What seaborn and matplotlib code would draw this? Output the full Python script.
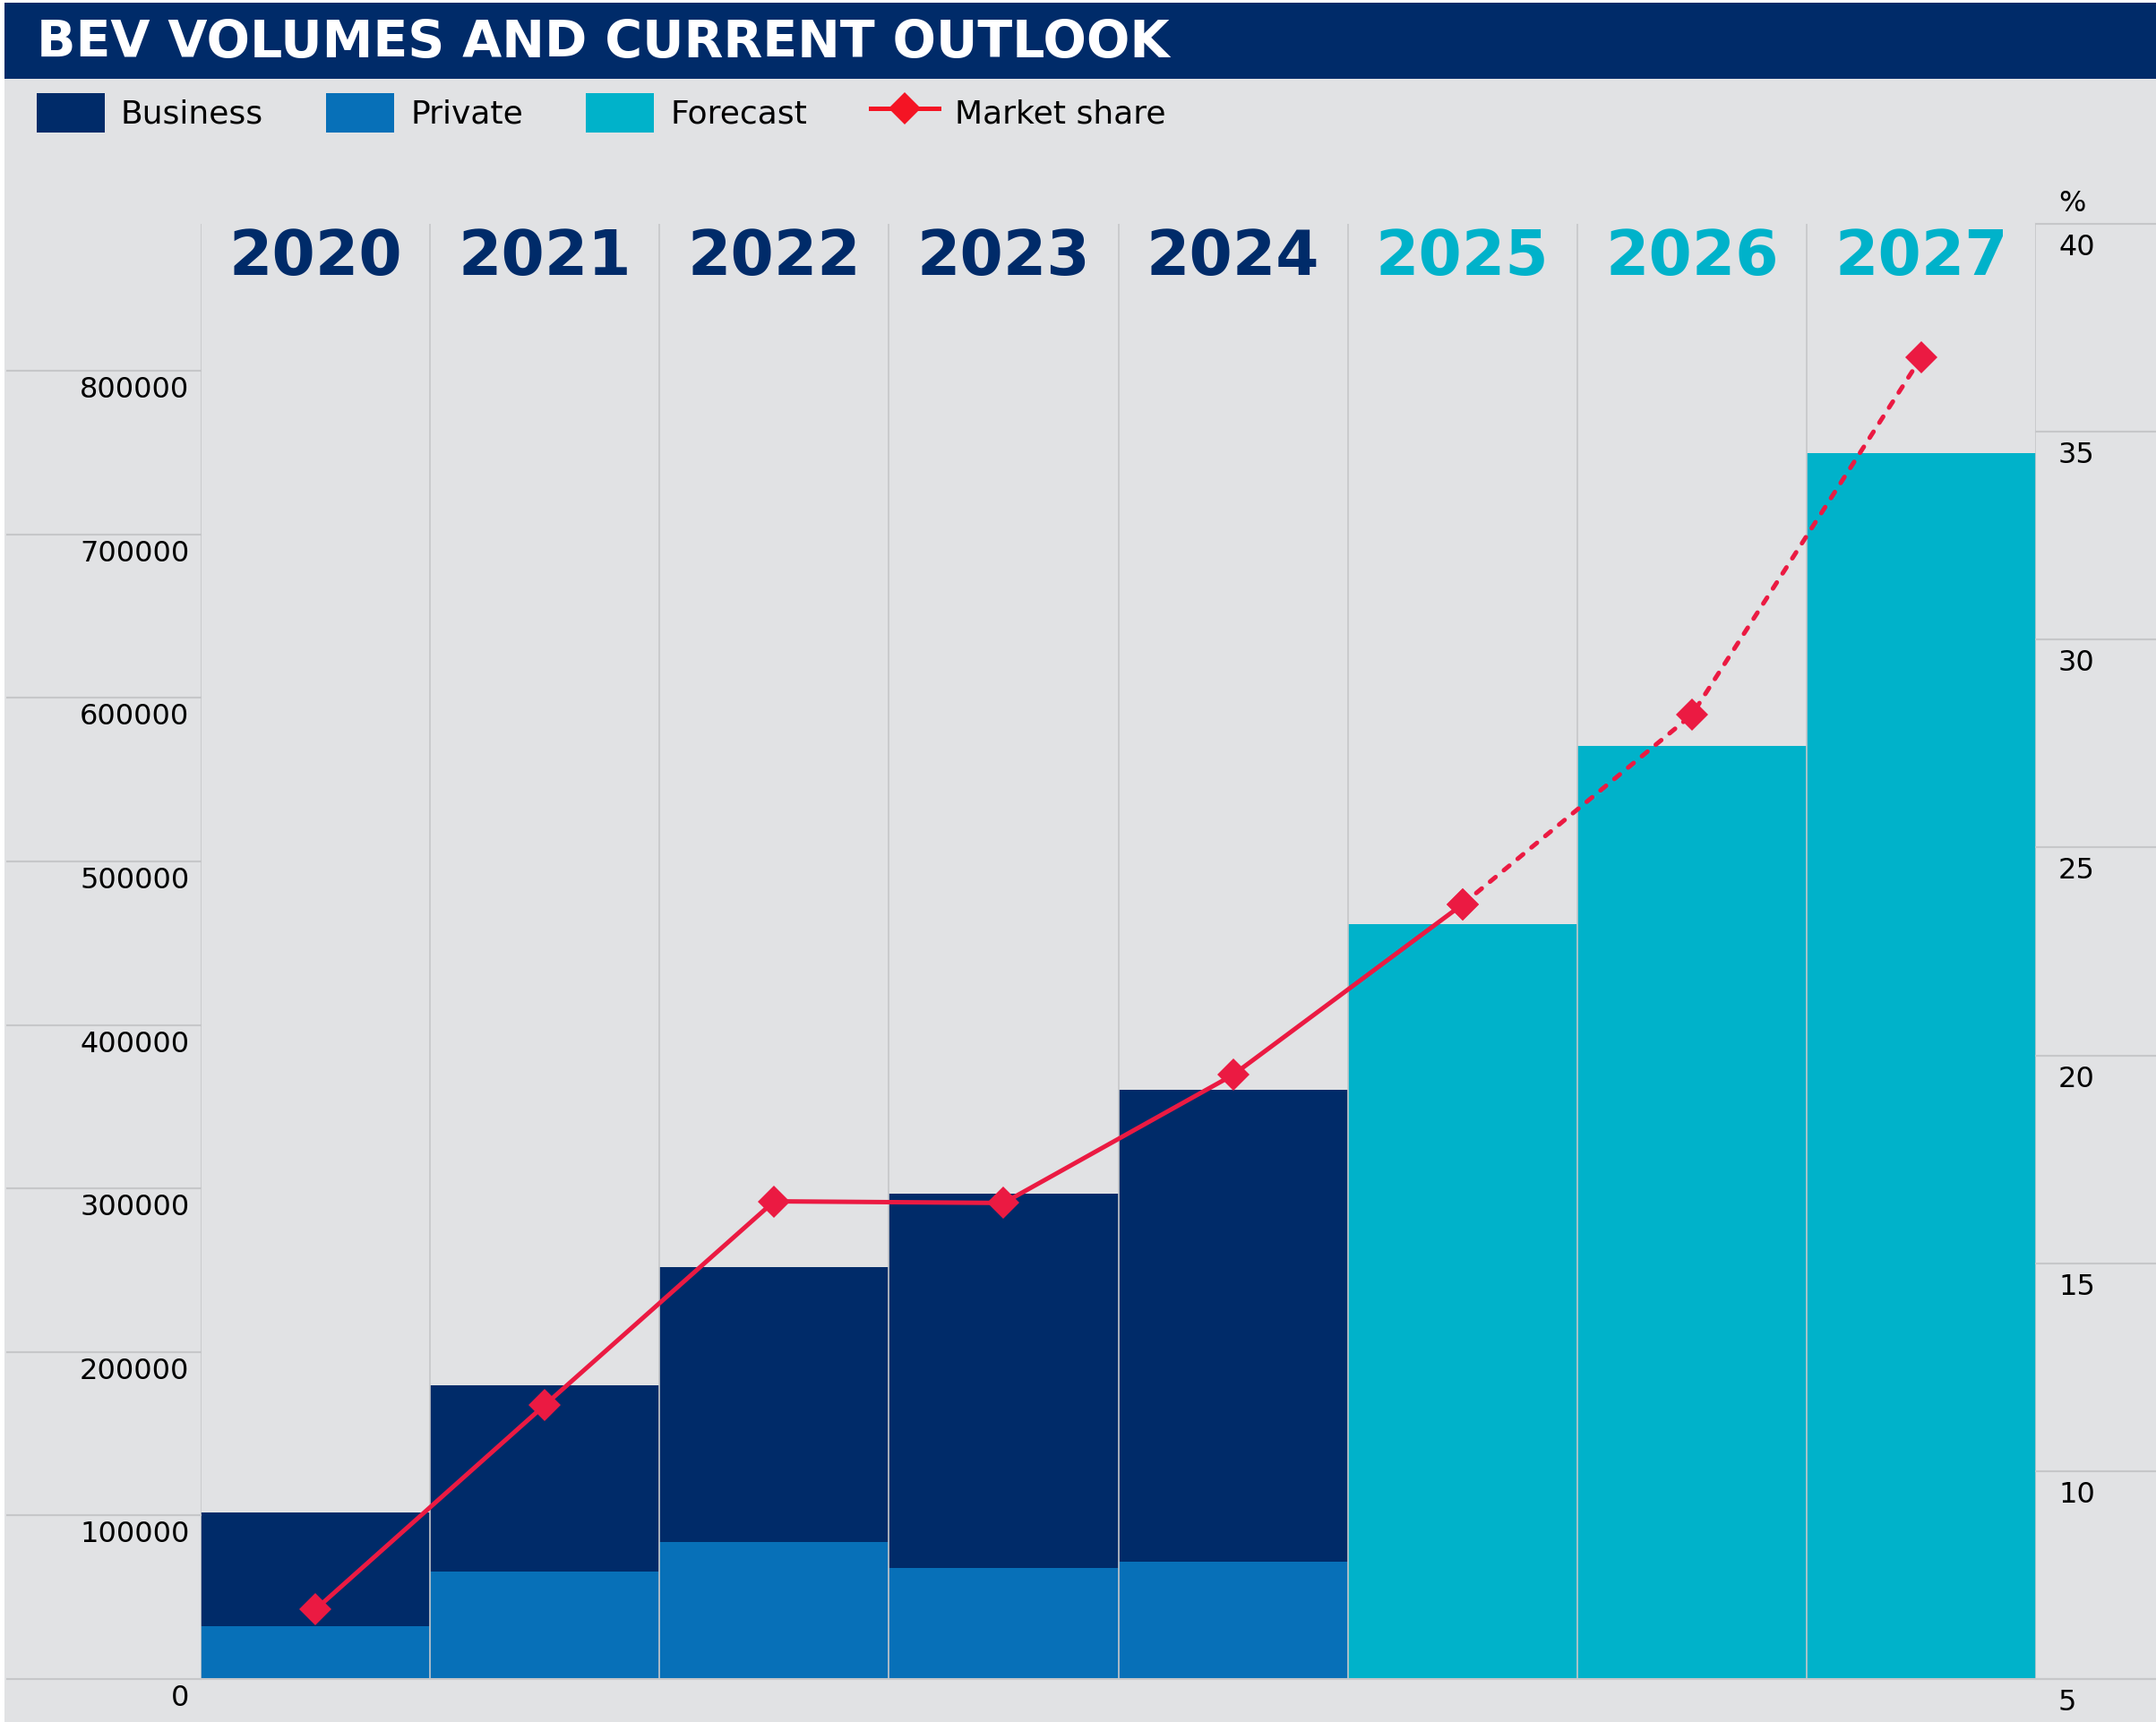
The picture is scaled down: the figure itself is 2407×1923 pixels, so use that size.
import numpy as np
import pandas as pd
import matplotlib
matplotlib.use("Agg")
import matplotlib.pyplot as plt
import seaborn as sns
from matplotlib.patches import Rectangle, Patch
from matplotlib.lines import Line2D
from matplotlib.transforms import blended_transform_factory, ScaledTranslation

# ---------------- data ----------------
years = ["2020", "2021", "2022", "2023", "2024", "2025", "2026", "2027"]
hist_years = ["2020", "2021", "2022", "2023", "2024"]
forecast_years = ["2025", "2026", "2027"]
business = [69600, 113900, 168200, 228800, 288700]
private = [32300, 65700, 83800, 68100, 71700]
forecast = [461700, 570600, 749700]
market_share = [6.67, 11.59, 16.49, 16.45, 19.53, 23.63, 28.19, 36.79]
left_ticks = [0, 100000, 200000, 300000, 400000, 500000, 600000, 700000, 800000]
right_ticks = [5, 10, 15, 20, 25, 30, 35, 40]
title = "BEV VOLUMES AND CURRENT OUTLOOK"
legend_labels = ["Business", "Private", "Forecast", "Market share"]

# ---------------- style ----------------
NAVY = "#002B69"
BLUE = "#0770B8"
CYAN = "#00B2CA"
RED = "#EB1A42"
LEGRED = "#F41424"
BG = "#E1E2E4"
GRID = "#C6C7C9"

plt.rcParams["font.family"] = ["DejaVu Sans"]

W, H, DPI = 2407, 1923, 200
fig = plt.figure(figsize=(W / DPI, H / DPI), dpi=DPI)
fig.patch.set_facecolor(BG)
# thin white strips at left / top edge
fig.add_artist(Rectangle((0, 0), 5 / W, 1, transform=fig.transFigure, color="white", lw=0, zorder=0))
fig.add_artist(Rectangle((0, 1 - 3 / H), 1, 3 / H, transform=fig.transFigure, color="white", lw=0, zorder=0))
# title band
fig.add_artist(Rectangle((5 / W, 1 - 88 / H), 1, 85 / H, transform=fig.transFigure, color=NAVY, lw=0, zorder=1))
fig.text(41 / W, 1 - 64 / H, title, color="white", fontsize=20.5, fontweight="bold", va="baseline", ha="left", zorder=2)

ax_l, ax_r, ax_b, ax_t = 224 / W, 2273 / W, 1 - 1875 / H, 1 - 250 / H
ax = fig.add_axes([ax_l, ax_b, ax_r - ax_l, ax_t - ax_b])
ax.set_facecolor("none")

# ---------------- bars ----------------
df = pd.DataFrame({
    "year": years,
    "total": [b + p for b, p in zip(business, private)] + forecast,
    "segment": ["Business"] * len(hist_years) + ["Forecast"] * len(forecast_years),
    "private": private + [0] * len(forecast_years),
})
sns.barplot(data=df, x="year", y="total", hue="segment", order=years,
            palette={"Business": NAVY, "Forecast": CYAN}, dodge=False, width=1.0,
            saturation=1, linewidth=0, legend=False, ax=ax, zorder=2)
sns.barplot(data=df, x="year", y="private", order=years, color=BLUE, width=1.0,
            saturation=1, linewidth=0, ax=ax, zorder=2)

ax.set_xlim(-0.5, len(years) - 0.5)
ax.set_ylim(0, 890000)
ax.set_xlabel("")
ax.set_ylabel("")
ax.set_xticks([])
for s in ax.spines.values():
    s.set_visible(False)

# vertical separators
for k in range(len(years) + 1):
    ax.axvline(k - 0.5, color=GRID, lw=0.6, zorder=2.5)

# left ticks
ax.set_yticks(left_ticks)
ax.set_yticklabels([str(v) for v in left_ticks])
ax.tick_params(axis="y", length=0, pad=4.5, labelsize=11.5, labelcolor="black")
off = ScaledTranslation(0, -6 / DPI, fig.dpi_scale_trans)
for lab in ax.get_yticklabels():
    lab.set_verticalalignment("top")
    lab.set_transform(lab.get_transform() + off)

# year labels
yr_tr = blended_transform_factory(ax.transData, ax.transAxes)
for i, y in enumerate(years):
    ax.text(i, (1875 - 307) / 1625, y, transform=yr_tr, ha="center", va="baseline",
            fontsize=25, fontweight="bold", color=(CYAN if y in forecast_years else NAVY), zorder=3)

# ---------------- market share ----------------
ax2 = ax.twinx()
xpos = np.arange(len(years))
n_hist = len(hist_years)
sns.lineplot(x=xpos[:n_hist + 1], y=market_share[:n_hist + 1], ax=ax2, color=RED, lw=1.8,
             marker="D", markersize=9.4, markeredgewidth=0, zorder=5)
sns.lineplot(x=xpos[n_hist:], y=market_share[n_hist:], ax=ax2, color=RED, lw=1.8,
             linestyle=(0, (1.6, 2.4)), dash_capstyle="round",
             marker="D", markersize=9.4, markeredgewidth=0, zorder=5)
ax2.set_ylim(5, 40)
ax2.set_xlim(-0.5, len(years) - 0.5)
ax2.set_yticks(right_ticks)
ax2.set_yticklabels([str(v) for v in right_ticks])
ax2.tick_params(axis="y", length=0, pad=9, labelsize=11.5, labelcolor="black")
for lab in ax2.get_yticklabels():
    lab.set_verticalalignment("top")
    lab.set_transform(lab.get_transform() + ScaledTranslation(0, -11 / DPI, fig.dpi_scale_trans))
for s in ax2.spines.values():
    s.set_visible(False)
ax2.set_ylabel("")
fig.text(2298 / W, 1 - 228 / H, "%", fontsize=11.5, ha="left", va="center", color="black")

# gridlines outside the plot area
tl = blended_transform_factory(fig.transFigure, ax.transData)
for v in left_ticks:
    fig.add_artist(Line2D([8 / W, ax_l], [v, v], transform=tl, color=GRID, lw=0.75, zorder=1))
fig.add_artist(Line2D([ax_l, 1], [0, 0], transform=tl, color=GRID, lw=0.75, zorder=1))
tr = blended_transform_factory(fig.transFigure, ax2.transData)
for v in right_ticks:
    fig.add_artist(Line2D([ax_r, 1], [v, v], transform=tr, color=GRID, lw=0.75, zorder=1))

# ---------------- legend ----------------
handles = [
    Patch(facecolor=NAVY, edgecolor="none"),
    Patch(facecolor=BLUE, edgecolor="none"),
    Patch(facecolor=CYAN, edgecolor="none"),
    Line2D([0], [0], color=LEGRED, lw=1.8, marker="D", markersize=9.4, markeredgewidth=0),
]
fig.legend(handles, legend_labels, loc="upper left", bbox_to_anchor=(41 / W, 1 - 104 / H),
           ncol=4, frameon=False, fontsize=13, handlelength=2.1, handleheight=1.5,
           handletextpad=0.5, columnspacing=1.95, borderpad=0, borderaxespad=0)

fig.savefig("out.png", dpi=DPI, facecolor=fig.get_facecolor())
